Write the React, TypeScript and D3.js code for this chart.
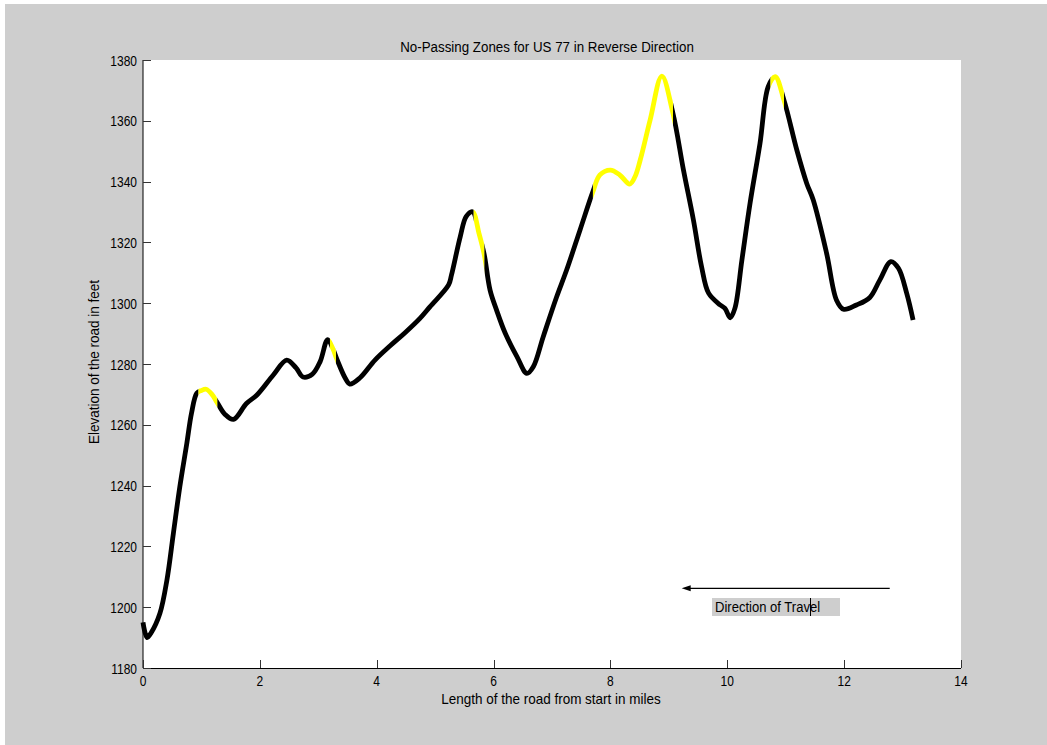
import React from "react";
import * as d3 from "d3";

const miles = [0, 0.07, 0.14, 0.29, 0.41, 0.52, 0.63, 0.75, 0.83, 0.92, 1.0, 1.08, 1.18, 1.27, 1.4, 1.55, 1.77, 1.95, 2.23, 2.46, 2.62, 2.74, 2.9, 3.03, 3.16, 3.25, 3.32, 3.46, 3.54, 3.71, 3.97, 4.23, 4.48, 4.74, 4.91, 5.23, 5.28, 5.43, 5.53, 5.64, 5.75, 5.84, 5.94, 6.05, 6.2, 6.4, 6.57, 6.68, 6.85, 7.08, 7.25, 7.48, 7.7, 7.82, 8.0, 8.16, 8.33, 8.42, 8.51, 8.68, 8.88, 9.07, 9.25, 9.42, 9.56, 9.68, 9.88, 9.96, 10.05, 10.13, 10.25, 10.39, 10.56, 10.7, 10.82, 10.97, 11.19, 11.36, 11.47, 11.7, 11.87, 11.99, 12.21, 12.44, 12.61, 12.8, 12.93, 13.07, 13.18];
const elevation = [1195, 1190, 1191.6, 1198, 1209, 1224.3, 1239.6, 1253.9, 1263.8, 1270.4, 1271.3, 1271.7, 1270, 1267.3, 1263.5, 1261.8, 1267, 1269.8, 1276.4, 1281.3, 1278.7, 1275.7, 1276.7, 1280.7, 1288, 1285, 1281.5, 1275.4, 1273.4, 1275.4, 1281.3, 1286, 1290.2, 1295, 1298.8, 1306, 1309.3, 1321.9, 1328.5, 1330.1, 1323, 1316, 1304.3, 1297.8, 1290.1, 1282.4, 1276.9, 1279.1, 1289, 1302.1, 1310.9, 1324.1, 1336.7, 1342.2, 1343.8, 1342.2, 1339.2, 1341.6, 1347.1, 1360.3, 1374.7, 1362.5, 1343.8, 1327.4, 1312, 1303.3, 1299.4, 1298.3, 1295.2, 1298.3, 1314.2, 1332.9, 1352.6, 1371.2, 1374.5, 1366.8, 1350.4, 1339.4, 1334, 1316.4, 1301, 1298, 1299.4, 1301.9, 1307.6, 1313.7, 1311.5, 1303.3, 1294.5];

// No-passing zones (start, end) in miles
const zoneStart = [0.95, 3.2, 5.66, 7.7, 10.74];
const zoneEnd = [1.27, 3.3, 5.84, 9.07, 10.97];

const xTicks = [0, 2, 4, 6, 8, 10, 12, 14];
const yTicks = [1180, 1200, 1220, 1240, 1260, 1280, 1300, 1320, 1340, 1360, 1380];

const arrowFrom = 12.78;
const arrowTo = 9.22;
const arrowY = 1206.2;
const noteText = "Direction of Travel";

const W = 1047;
const H = 745;
const L = 143, R = 961, T = 60, B = 668;
const FONT = "'Liberation Sans', Arial, sans-serif";

function T2({ x, y, anchor = "start", rotate = 0, children, size = 15, sx = 0.8 }: any) {
  return (
    <text
      transform={`translate(${x},${y}) rotate(${rotate}) scale(${sx},1)`}
      textAnchor={anchor}
      fontFamily={FONT}
      fontSize={size}
      fill="#000"
    >
      {children}
    </text>
  );
}

export default function App() {
  const x = d3.scaleLinear().domain([0, 14]).range([L, R]);
  const y = d3.scaleLinear().domain([1180, 1380]).range([B, T]);
  const pts = miles.map((m, i) => [m, elevation[i]] as [number, number]);
  const line = d3
    .line<[number, number]>()
    .x((d) => x(d[0]))
    .y((d) => y(d[1]))
    .curve(d3.curveCatmullRom.alpha(0.5));
  const path = line(pts) || "";

  const boxL = 712, boxR = 840, boxT = 598, boxB = 616;

  return (
    <svg width={W} height={H} style={{ position: "absolute", left: 0, top: 0 }}>
      <defs>
        {zoneStart.map((s, i) => (
          <clipPath id={`zone${i}`} key={i}>
            <rect x={x(s)} y={0} width={x(zoneEnd[i]) - x(s)} height={H} />
          </clipPath>
        ))}
        <mask id="blackMask" maskUnits="userSpaceOnUse" x={0} y={0} width={W} height={H}>
          <rect x={0} y={0} width={W} height={H} fill="#fff" />
          {zoneStart.map((s, i) => (
            <rect key={i} x={x(s)} y={0} width={x(zoneEnd[i]) - x(s)} height={H} fill="#000" />
          ))}
        </mask>
      </defs>
      <rect x={0} y={0} width={W} height={H} fill="#ffffff" />
      <rect x={5} y={4} width={W - 5} height={H - 4} fill="#cecece" />
      <rect x={L} y={T} width={R - L} height={B - T} fill="#ffffff" />

      {/* data */}
      <path d={path} fill="none" stroke="#000" strokeWidth={4.8} strokeLinejoin="round" mask="url(#blackMask)" />
      {zoneStart.map((s, i) => (
        <path key={i} d={path} fill="none" stroke="#ffff00" strokeWidth={4.8} strokeLinejoin="round" clipPath={`url(#zone${i})`} />
      ))}

      {/* axes */}
      <line x1={L} y1={T} x2={L} y2={B} stroke="#000" strokeWidth={1} />
      <line x1={L} y1={B + 0.5} x2={R} y2={B + 0.5} stroke="#000" strokeWidth={1} />
      {yTicks.map((t) => (
        <g key={t}>
          <line x1={L} x2={L + 8} y1={Math.round(y(t)) + 0.5} y2={Math.round(y(t)) + 0.5} stroke="#333" />
          <T2 x={137} y={y(t) + 5.5} anchor="end">{t}</T2>
        </g>
      ))}
      {xTicks.map((t) => (
        <g key={t}>
          <line x1={Math.round(x(t)) + 0.5} x2={Math.round(x(t)) + 0.5} y1={B} y2={B - 8} stroke="#333" />
          <T2 x={x(t)} y={686} anchor="middle">{t}</T2>
        </g>
      ))}

      {/* labels */}
      <T2 x={547} y={52} anchor="middle" sx={0.89}>No-Passing Zones for US 77 in Reverse Direction</T2>
      <T2 x={551} y={704} anchor="middle" sx={0.9}>Length of the road from start in miles</T2>
      <T2 x={98.5} y={362} anchor="middle" rotate={-90} sx={0.9}>Elevation of the road in feet</T2>

      {/* annotation */}
      <line x1={x(arrowFrom)} x2={x(arrowTo) + 6} y1={y(arrowY)} y2={y(arrowY)} stroke="#000" strokeWidth={1.2} />
      <path
        d={`M${x(arrowTo)},${y(arrowY)} L${x(arrowTo) + 9},${y(arrowY) - 3} L${x(arrowTo) + 9},${y(arrowY) + 3} Z`}
        fill="#000"
      />
      <rect x={boxL} y={boxT} width={boxR - boxL} height={boxB - boxT} fill="#cecece" />
      <T2 x={715} y={612} sx={0.87}>{noteText}</T2>
      <line x1={810.5} x2={810.5} y1={boxT} y2={boxB} stroke="#000" strokeWidth={1} />
    </svg>
  );
}
